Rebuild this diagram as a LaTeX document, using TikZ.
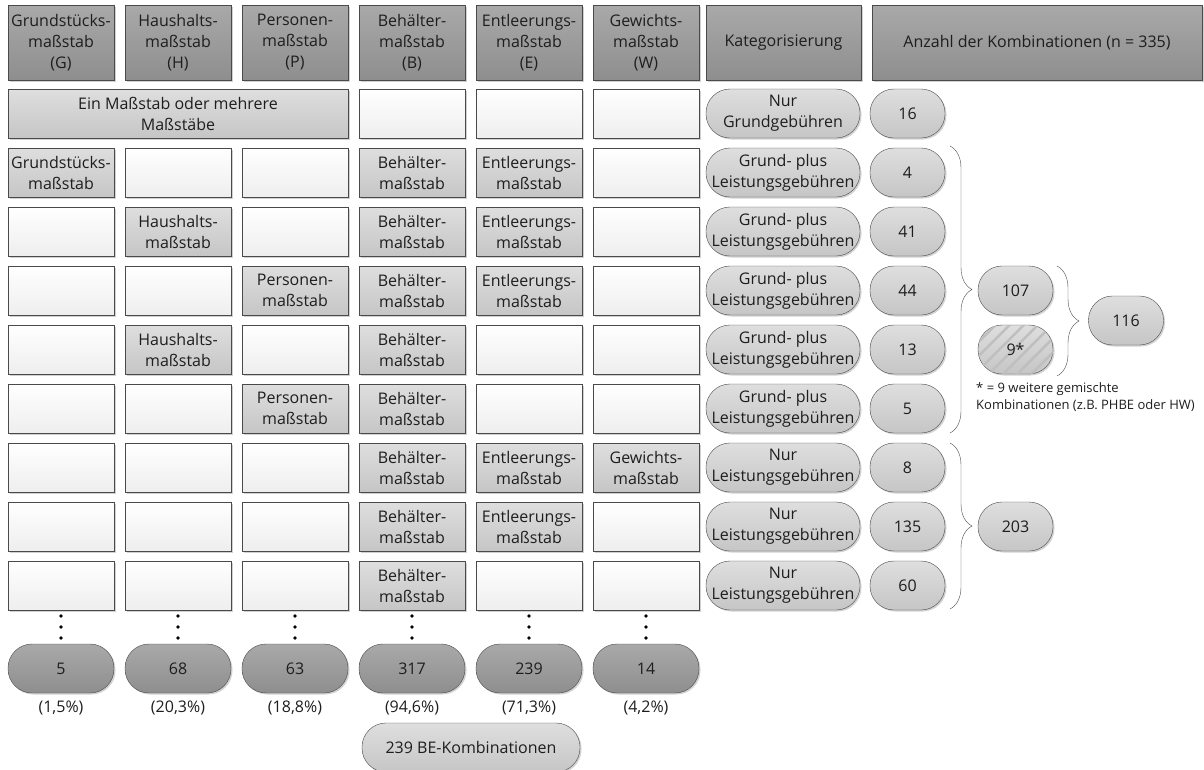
\documentclass[tikz,border=0pt]{standalone}
\usepackage{fontspec}
\setmainfont{Open Sans}
\usetikzlibrary{decorations.pathreplacing,patterns.meta,shadows}
\definecolor{hdrtop}{HTML}{A9A9A9}
\definecolor{hdrbot}{HTML}{8E8E8E}
\definecolor{fulltop}{HTML}{DEDEDE}
\definecolor{fullbot}{HTML}{C6C6C6}
\definecolor{emptytop}{HTML}{FFFFFF}
\definecolor{emptybot}{HTML}{EEEEEE}
\definecolor{edge}{HTML}{4A4A4A}
\definecolor{txt}{HTML}{1E1E1E}

\begin{document}
\begin{tikzpicture}[x=1pt, y=-1pt,
    every node/.style={font=\fontsize{16}{21}\selectfont, align=center, inner sep=0pt, text=txt},
    shade/.style={drop shadow={shadow xshift=1.5pt, shadow yshift=-1.5pt, fill=black, opacity=0.18}},
    hdr/.style={draw=edge, top color=hdrtop, bottom color=hdrbot, minimum width=106pt, minimum height=75pt, shade},
    full/.style={draw=edge, top color=fulltop, bottom color=fullbot, minimum width=106pt, minimum height=49pt, shade},
    empty/.style={draw=edge, top color=emptytop, bottom color=emptybot, minimum width=106pt, minimum height=49pt, shade},
    pill/.style={draw=edge, rounded corners=24pt, top color=fulltop, bottom color=fullbot, minimum height=49pt, shade},
    cat/.style={pill, minimum width=154pt},
    num/.style={pill, minimum width=75pt},
    dark/.style={pill, top color=hdrtop, bottom color=hdrbot, minimum width=106pt},
    brc/.style={draw=edge, decorate, decoration={brace, amplitude=22pt}}]
\useasboundingbox (0,0) rectangle (1204,769);

\node[hdr] (g0) at (61,42.5) {Grundstücks-\\maßstab\\(G)};
\node[hdr] (h0) at (178,42.5) {Haushalts-\\maßstab\\(H)};
\node[hdr] (p0) at (295,42.5) {Personen-\\maßstab\\(P)};
\node[hdr] (b0) at (412,42.5) {Behälter-\\maßstab\\(B)};
\node[hdr] (e0) at (529,42.5) {Entleerungs-\\maßstab\\(E)};
\node[hdr] (w0) at (646,42.5) {Gewichts-\\maßstab\\(W)};
\node[hdr, minimum width=155pt] (k0) at (783.5,42.5) {Kategorisierung};
\node[hdr, minimum width=330pt] (n0) at (1037,42.5) {Anzahl der Kombinationen (n = 335)};

\node[full, minimum width=340pt] (gp1) at (178,113.5) {Ein Maßstab oder mehrere\\Maßstäbe};
\node[empty] (b1) at (412,113.5) {};
\node[empty] (e1) at (529,113.5) {};
\node[empty] (w1) at (646,113.5) {};
\node[cat] (k1) at (783,113.5) {Nur\\Grundgebühren};
\node[num] (n1) at (907.5,113.5) {16};

\node[full] (g2) at (61,172.5) {Grundstücks-\\maßstab};
\node[empty] (h2) at (178,172.5) {};
\node[empty] (p2) at (295,172.5) {};
\node[full] (b2) at (412,172.5) {Behälter-\\maßstab};
\node[full] (e2) at (529,172.5) {Entleerungs-\\maßstab};
\node[empty] (w2) at (646,172.5) {};
\node[cat] (k2) at (783,172.5) {Grund- plus\\Leistungsgebühren};
\node[num] (n2) at (907.5,172.5) {4};

\node[empty] (g3) at (61,231.5) {};
\node[full] (h3) at (178,231.5) {Haushalts-\\maßstab};
\node[empty] (p3) at (295,231.5) {};
\node[full] (b3) at (412,231.5) {Behälter-\\maßstab};
\node[full] (e3) at (529,231.5) {Entleerungs-\\maßstab};
\node[empty] (w3) at (646,231.5) {};
\node[cat] (k3) at (783,231.5) {Grund- plus\\Leistungsgebühren};
\node[num] (n3) at (907.5,231.5) {41};

\node[empty] (g4) at (61,290.5) {};
\node[empty] (h4) at (178,290.5) {};
\node[full] (p4) at (295,290.5) {Personen-\\maßstab};
\node[full] (b4) at (412,290.5) {Behälter-\\maßstab};
\node[full] (e4) at (529,290.5) {Entleerungs-\\maßstab};
\node[empty] (w4) at (646,290.5) {};
\node[cat] (k4) at (783,290.5) {Grund- plus\\Leistungsgebühren};
\node[num] (n4) at (907.5,290.5) {44};

\node[empty] (g5) at (61,349.5) {};
\node[full] (h5) at (178,349.5) {Haushalts-\\maßstab};
\node[empty] (p5) at (295,349.5) {};
\node[full] (b5) at (412,349.5) {Behälter-\\maßstab};
\node[empty] (e5) at (529,349.5) {};
\node[empty] (w5) at (646,349.5) {};
\node[cat] (k5) at (783,349.5) {Grund- plus\\Leistungsgebühren};
\node[num] (n5) at (907.5,349.5) {13};

\node[empty] (g6) at (61,408.5) {};
\node[empty] (h6) at (178,408.5) {};
\node[full] (p6) at (295,408.5) {Personen-\\maßstab};
\node[full] (b6) at (412,408.5) {Behälter-\\maßstab};
\node[empty] (e6) at (529,408.5) {};
\node[empty] (w6) at (646,408.5) {};
\node[cat] (k6) at (783,408.5) {Grund- plus\\Leistungsgebühren};
\node[num] (n6) at (907.5,408.5) {5};

\node[empty] (g7) at (61,467.5) {};
\node[empty] (h7) at (178,467.5) {};
\node[empty] (p7) at (295,467.5) {};
\node[full] (b7) at (412,467.5) {Behälter-\\maßstab};
\node[full] (e7) at (529,467.5) {Entleerungs-\\maßstab};
\node[full] (w7) at (646,467.5) {Gewichts-\\maßstab};
\node[cat] (k7) at (783,467.5) {Nur\\Leistungsgebühren};
\node[num] (n7) at (907.5,467.5) {8};

\node[empty] (g8) at (61,526.5) {};
\node[empty] (h8) at (178,526.5) {};
\node[empty] (p8) at (295,526.5) {};
\node[full] (b8) at (412,526.5) {Behälter-\\maßstab};
\node[full] (e8) at (529,526.5) {Entleerungs-\\maßstab};
\node[empty] (w8) at (646,526.5) {};
\node[cat] (k8) at (783,526.5) {Nur\\Leistungsgebühren};
\node[num] (n8) at (907.5,526.5) {135};

\node[empty] (g9) at (61,585.5) {};
\node[empty] (h9) at (178,585.5) {};
\node[empty] (p9) at (295,585.5) {};
\node[full] (b9) at (412,585.5) {Behälter-\\maßstab};
\node[empty] (e9) at (529,585.5) {};
\node[empty] (w9) at (646,585.5) {};
\node[cat] (k9) at (783,585.5) {Nur\\Leistungsgebühren};
\node[num] (n9) at (907.5,585.5) {60};

\node[num] (s107) at (1015.5,290.5) {107};
\node[num, fill=gray!10, postaction={pattern={Lines[angle=45, distance=10pt, line width=2.5pt]}, pattern color=gray!50}] (s9) at (1015.5,349.5) {9*};
\node[num] (s116) at (1126,320.5) {116};
\node[num] (s203) at (1015.5,526.5) {203};
\node[anchor=west, align=left, font=\fontsize{13}{17}\selectfont] (note) at (976,397) {* = 9 weitere gemischte\\Kombinationen (z.B. PHBE oder HW)};

\coordinate (b1a) at (950,146);
\coordinate (b1b) at (950,433);
\coordinate (b2a) at (1057,266);
\coordinate (b2b) at (1057,376);
\coordinate (b3a) at (950,443);
\coordinate (b3b) at (950,609);
\draw[brc] (b1a) -- (b1b);
\draw[brc] (b2a) -- (b2b);
\draw[brc] (b3a) -- (b3b);

\fill (61,616) circle (1.8) (61,627) circle (1.8) (61,638) circle (1.8);
\fill (178,616) circle (1.8) (178,627) circle (1.8) (178,638) circle (1.8);
\fill (295,616) circle (1.8) (295,627) circle (1.8) (295,638) circle (1.8);
\fill (412,616) circle (1.8) (412,627) circle (1.8) (412,638) circle (1.8);
\fill (529,616) circle (1.8) (529,627) circle (1.8) (529,638) circle (1.8);
\fill (646,616) circle (1.8) (646,627) circle (1.8) (646,638) circle (1.8);

\node[dark] (gs) at (61,668.5) {5};
\node[dark] (hs) at (178,668.5) {68};
\node[dark] (ps) at (295,668.5) {63};
\node[dark] (bs) at (412,668.5) {317};
\node[dark] (es) at (529,668.5) {239};
\node[dark] (ws) at (646,668.5) {14};
\node (gq) at (61,708) {(1,5\%)};
\node (hq) at (178,708) {(20,3\%)};
\node (pq) at (295,708) {(18,8\%)};
\node (bq) at (412,708) {(94,6\%)};
\node (eq) at (529,708) {(71,3\%)};
\node (wq) at (646,708) {(4,2\%)};
\node[pill, minimum width=218pt] (be) at (471,747.5) {239 BE-Kombinationen};
\end{tikzpicture}
\end{document}
